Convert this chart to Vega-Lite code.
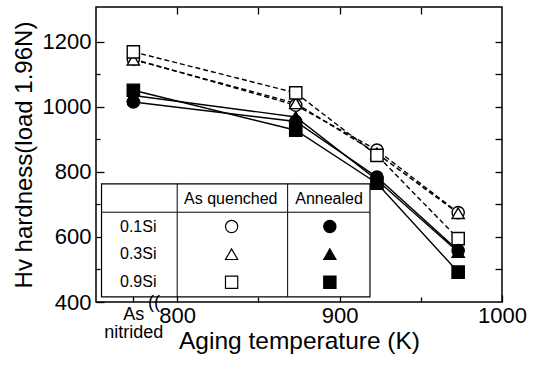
{
  "$schema": "https://vega.github.io/schema/vega-lite/v6.json",
  "width": 406,
  "height": 295,
  "autosize": "none",
  "padding": {"left": 96, "top": 7, "right": 40, "bottom": 63},
  "background": "white",
  "config": {
    "font": "Liberation Sans",
    "view": {"stroke": "black", "strokeWidth": 1.5},
    "axis": {"domain": false, "grid": false, "tickColor": "black", "tickWidth": 1.3, "labelColor": "black", "titleColor": "black", "titleFontWeight": "normal", "format": "d"}
  },
  "datasets": {
    "hv": [
      {"si": "0.1Si", "treat": "quenched", "T": 773, "hv": 1147},
      {"si": "0.1Si", "treat": "quenched", "T": 873, "hv": 1005},
      {"si": "0.1Si", "treat": "quenched", "T": 923, "hv": 867},
      {"si": "0.1Si", "treat": "quenched", "T": 973, "hv": 675},
      {"si": "0.3Si", "treat": "quenched", "T": 773, "hv": 1145},
      {"si": "0.3Si", "treat": "quenched", "T": 873, "hv": 1011},
      {"si": "0.3Si", "treat": "quenched", "T": 923, "hv": 857},
      {"si": "0.3Si", "treat": "quenched", "T": 973, "hv": 673},
      {"si": "0.9Si", "treat": "quenched", "T": 773, "hv": 1169},
      {"si": "0.9Si", "treat": "quenched", "T": 873, "hv": 1043},
      {"si": "0.9Si", "treat": "quenched", "T": 923, "hv": 851},
      {"si": "0.9Si", "treat": "quenched", "T": 973, "hv": 595},
      {"si": "0.1Si", "treat": "annealed", "T": 773, "hv": 1015},
      {"si": "0.1Si", "treat": "annealed", "T": 873, "hv": 955},
      {"si": "0.1Si", "treat": "annealed", "T": 923, "hv": 784},
      {"si": "0.1Si", "treat": "annealed", "T": 973, "hv": 558},
      {"si": "0.3Si", "treat": "annealed", "T": 773, "hv": 1035},
      {"si": "0.3Si", "treat": "annealed", "T": 873, "hv": 969},
      {"si": "0.3Si", "treat": "annealed", "T": 923, "hv": 775},
      {"si": "0.3Si", "treat": "annealed", "T": 973, "hv": 554},
      {"si": "0.9Si", "treat": "annealed", "T": 773, "hv": 1051},
      {"si": "0.9Si", "treat": "annealed", "T": 873, "hv": 928},
      {"si": "0.9Si", "treat": "annealed", "T": 923, "hv": 765},
      {"si": "0.9Si", "treat": "annealed", "T": 973, "hv": 492}
    ],
    "box": [{"x1": 753.4, "x2": 918.7, "y1": 416, "y2": 763}],
    "vlines": [{"x": 800, "y1": 416, "y2": 763}, {"x": 868, "y1": 416, "y2": 763}],
    "hlines": [{"x1": 753.4, "x2": 918.7, "y": 676}],
    "texts": [
      {"label": "As quenched", "tx": 833, "ty": 716},
      {"label": "Annealed", "tx": 893.5, "ty": 716},
      {"label": "0.1Si", "tx": 776, "ty": 632},
      {"label": "0.3Si", "tx": 776, "ty": 547},
      {"label": "0.9Si", "tx": 776, "ty": 461}
    ],
    "symbols": [
      {"si": "0.1Si", "treat": "quenched", "tx": 833.5, "ty": 632},
      {"si": "0.3Si", "treat": "quenched", "tx": 833.5, "ty": 547},
      {"si": "0.9Si", "treat": "quenched", "tx": 833.5, "ty": 461},
      {"si": "0.1Si", "treat": "annealed", "tx": 894, "ty": 632},
      {"si": "0.3Si", "treat": "annealed", "tx": 894, "ty": 547},
      {"si": "0.9Si", "treat": "annealed", "tx": 894, "ty": 461}
    ],
    "brk": [{"label": "((", "tx": 785.7, "ty": 398}]
  },
  "resolve": {"axis": {"x": "independent", "y": "independent"}},
  "layer": [
    {
      "data": {"name": "hv"},
      "transform": [{"filter": "datum.treat == 'quenched'"}],
      "mark": {"type": "line", "color": "black", "strokeWidth": 1.4, "strokeDash": [5, 3]},
      "encoding": {
        "x": {"field": "T", "type": "quantitative",
          "scale": {"domain": [750, 1000], "nice": false, "zero": false},
          "axis": {"orient": "bottom", "values": [773, 800, 900, 1000], "tickSize": -7,
            "labelExpr": "datum.value == 773 ? ['As\u00a0\u00a0\u00a0\u00a0\u00a0\u00a0\u00a0\u00a0', 'nitrided'] : datum.label",
            "labelFontSize": {"condition": {"test": "datum.value == 773", "value": 18}, "value": 22},
            "labelLineHeight": 18, "labelPadding": 10, "labelOverlap": false, "labelFlush": false, "labelBound": false,
            "title": "Aging temperature (K)", "titleFontSize": 24.5, "titleY": 27, "titleBaseline": "top"}},
        "y": {"field": "hv", "type": "quantitative",
          "scale": {"domain": [400, 1307], "nice": false, "zero": false},
          "axis": {"orient": "left", "values": [400, 600, 800, 1000, 1200], "tickSize": -8,
            "labelFontSize": 22, "labelPadding": 13, "labelFlush": false, "labelBound": false,
            "title": "Hv hardness(load 1.96N)", "titleFontSize": 24, "titlePadding": 6}},
        "detail": {"field": "si"}
      }
    },
    {
      "data": {"name": "hv"},
      "transform": [{"filter": "datum.treat == 'annealed'"}],
      "mark": {"type": "line", "color": "black", "strokeWidth": 1.4},
      "encoding": {
        "x": {"field": "T", "type": "quantitative",
          "axis": {"orient": "bottom", "values": [850, 950], "tickSize": -5, "labels": false, "title": null}},
        "y": {"field": "hv", "type": "quantitative",
          "axis": {"orient": "left", "values": [500, 700, 900, 1100], "tickSize": -4, "labels": false, "title": null}},
        "detail": {"field": "si"}
      }
    },
    {
      "data": {"name": "hv"},
      "mark": {"type": "point", "filled": false, "stroke": "black", "strokeWidth": 1.4, "opacity": 1, "size": 150},
      "encoding": {
        "x": {"field": "T", "type": "quantitative",
          "axis": {"orient": "top", "values": [800, 850, 900, 950], "tickSize": -7, "labels": false, "title": null}},
        "y": {"field": "hv", "type": "quantitative",
          "axis": {"orient": "right", "values": [500, 600, 700, 800, 900, 1000, 1100, 1200], "tickSize": -7, "labels": false, "title": null}},
        "shape": {"field": "si", "type": "nominal", "scale": {"domain": ["0.1Si", "0.3Si", "0.9Si"], "range": ["circle", "triangle-up", "square"]}, "legend": null},
        "fill": {"field": "treat", "type": "nominal", "scale": {"domain": ["quenched", "annealed"], "range": ["white", "black"]}, "legend": null}
      }
    },
    {
      "data": {"name": "box"},
      "mark": {"type": "rect", "fill": "white", "stroke": "black", "strokeWidth": 1.2},
      "encoding": {
        "x": {"field": "x1", "type": "quantitative", "axis": null},
        "x2": {"field": "x2"},
        "y": {"field": "y1", "type": "quantitative", "axis": null},
        "y2": {"field": "y2"}
      }
    },
    {
      "data": {"name": "vlines"},
      "mark": {"type": "rule", "color": "black", "strokeWidth": 1},
      "encoding": {
        "x": {"field": "x", "type": "quantitative", "axis": null},
        "y": {"field": "y1", "type": "quantitative", "axis": null},
        "y2": {"field": "y2"}
      }
    },
    {
      "data": {"name": "hlines"},
      "mark": {"type": "rule", "color": "black", "strokeWidth": 1},
      "encoding": {
        "x": {"field": "x1", "type": "quantitative", "axis": null},
        "x2": {"field": "x2"},
        "y": {"field": "y", "type": "quantitative", "axis": null}
      }
    },
    {
      "data": {"name": "texts"},
      "mark": {"type": "text", "fontSize": 16, "color": "black", "align": "center", "baseline": "middle"},
      "encoding": {
        "x": {"field": "tx", "type": "quantitative", "axis": null},
        "y": {"field": "ty", "type": "quantitative", "axis": null},
        "text": {"field": "label"}
      }
    },
    {
      "data": {"name": "symbols"},
      "mark": {"type": "point", "filled": false, "stroke": "black", "strokeWidth": 1.2, "opacity": 1, "size": 150},
      "encoding": {
        "x": {"field": "tx", "type": "quantitative", "axis": null},
        "y": {"field": "ty", "type": "quantitative", "axis": null},
        "shape": {"field": "si", "type": "nominal", "legend": null},
        "fill": {"field": "treat", "type": "nominal", "legend": null}
      }
    },
    {
      "data": {"name": "brk"},
      "mark": {"type": "text", "fontSize": 18, "color": "black", "align": "center", "baseline": "middle"},
      "encoding": {
        "x": {"field": "tx", "type": "quantitative", "axis": null},
        "y": {"field": "ty", "type": "quantitative", "axis": null},
        "text": {"field": "label"}
      }
    }
  ]
}
